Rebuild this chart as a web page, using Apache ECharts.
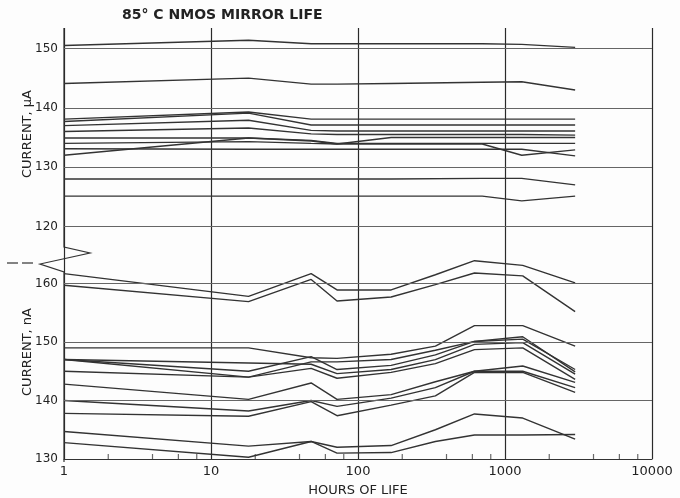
<!DOCTYPE html>
<html>
<head>
<meta charset="utf-8">
<script src="https://cdn.jsdelivr.net/npm/echarts@6/dist/echarts.min.js"></script>
<style>
html,body{margin:0;padding:0;background:#fdfdfd;}
#chart{width:680px;height:498px;}
</style>
</head>
<body>
<div id="chart"></div>
<script>
// hours of life at which readings were plotted
var HOURS_UA = [1, 18, 48, 72, 168, 700, 1300, 3000];
var HOURS_NA = [1, 18, 48, 72, 168, 336, 620, 1320, 3000];

// upper panel, current in uA
var UA_150 = [150.5, 151.4, 150.8, 150.8, 150.8, 150.8, 150.7, 150.2];
var UA_144 = [144.1, 145.0, 144.0, 144.0, 144.1, 144.3, 144.4, 143.0];
var UA_138 = [138.1, 139.3, 138.1, 138.1, 138.1, 138.1, 138.1, 138.1];
var UA_137 = [137.7, 139.1, 137.1, 137.1, 137.1, 137.1, 137.1, 137.1];
var UA_136 = [137.0, 137.9, 136.2, 136.1, 136.1, 136.1, 136.1, 136.1];
var UA_135 = [136.0, 136.6, 135.6, 135.5, 135.5, 135.5, 135.5, 135.4];
var UA_134 = [134.9, 134.9, 134.5, 134.0, 134.0, 134.0, 134.0, 134.0];
var UA_134b = [134.0, 134.3, 134.0, 133.9, 133.9, 133.9, 132.0, 132.9];
var UA_133 = [133.1, 133.0, 133.0, 133.0, 133.0, 133.0, 133.0, 131.9];
var UA_132 = [132.0, 134.9, 134.4, 133.9, 135.0, 135.0, 135.0, 135.0];
var UA_128 = [128.0, 128.0, 128.0, 128.0, 128.0, 128.1, 128.1, 127.0];
var UA_125 = [125.1, 125.1, 125.1, 125.1, 125.1, 125.1, 124.3, 125.1];

// lower panel, current in nA
var NA_162 = [161.7, 157.8, 161.7, 158.9, 158.9, 161.5, 163.9, 163.1, 160.1];
var NA_160 = [159.7, 156.9, 160.7, 157.0, 157.7, 159.8, 161.8, 161.3, 155.2];
var NA_149 = [149.0, 149.0, 147.3, 147.2, 147.9, 149.3, 152.8, 152.8, 149.3];
var NA_147a = [147.0, 144.0, 146.6, 146.6, 147.0, 148.6, 150.1, 150.9, 144.9];
var NA_147b = [147.0, 145.0, 147.5, 145.3, 146.0, 147.8, 150.1, 150.5, 145.3];
var NA_147c = [147.0, 146.4, 146.2, 144.6, 145.3, 147.0, 149.6, 149.9, 144.5];
var NA_145 = [145.0, 144.0, 145.5, 143.8, 144.8, 146.3, 148.7, 149.0, 143.6];
var NA_143 = [142.8, 140.2, 143.0, 140.2, 141.0, 143.2, 145.0, 145.9, 143.1];
var NA_140 = [140.0, 138.2, 140.0, 139.0, 140.4, 142.2, 145.0, 145.0, 142.2];
var NA_138 = [137.8, 137.3, 139.8, 137.4, 139.2, 140.8, 144.8, 144.8, 141.4];
var NA_135 = [134.7, 132.2, 133.0, 132.0, 132.3, 135.0, 137.7, 137.0, 133.4];
var NA_133 = [132.8, 130.3, 133.0, 131.0, 131.1, 133.0, 134.1, 134.1, 134.2];

// ticks
var UA_TICKS = [120, 130, 140, 150];
var NA_TICKS = [130, 140, 150, 160];
var MINOR_HOURS = [2, 4, 6, 8, 20, 40, 60, 80, 200, 400, 600, 800, 2000, 4000, 6000, 8000];

var uaList = [UA_150, UA_144, UA_138, UA_137, UA_136, UA_135, UA_134, UA_134b, UA_133, UA_132, UA_128, UA_125];
var naList = [NA_162, NA_160, NA_149, NA_147a, NA_147b, NA_147c, NA_145, NA_143, NA_140, NA_138, NA_135, NA_133];

var INK = '#333';
var FONT = 'DejaVu Sans';

function pairs(hours, vals) {
    return hours.map(function (h, i) { return [h, vals[i]]; });
}

function gridMarks(ticks) {
    return {
        silent: true, symbol: 'none', animation: false,
        label: {show: false},
        lineStyle: {color: '#666', width: 1, type: 'solid'},
        data: ticks.map(function (t) { return {yAxis: t}; })
    };
}

var series = [];
uaList.forEach(function (vals, i) {
    var s = {
        type: 'line', xAxisIndex: 0, yAxisIndex: 0,
        data: pairs(HOURS_UA, vals), showSymbol: false,
        lineStyle: {color: INK, width: 1.4}
    };
    if (i === 0) s.markLine = gridMarks(UA_TICKS);
    series.push(s);
});
naList.forEach(function (vals, i) {
    var s = {
        type: 'line', xAxisIndex: 1, yAxisIndex: 1,
        data: pairs(HOURS_NA, vals), showSymbol: false,
        lineStyle: {color: INK, width: 1.4}
    };
    if (i === 0) s.markLine = gridMarks(NA_TICKS.slice(1));
    series.push(s);
});
series.push({
    type: 'scatter', xAxisIndex: 1, yAxisIndex: 1, clip: false,
    symbol: 'rect', symbolSize: [1.2, 5], symbolOffset: [0, -2.5],
    itemStyle: {color: '#444'},
    data: MINOR_HOURS.map(function (h) { return [h, 130]; })
});

// layout: the two panels meet at SPLIT, the axis break sits between 247 and 272
var GL = 64, GR = 28, TOP0 = 28, SPLIT = 250, BOT = 36, BOT_Y = 462;

var xBase = {
    type: 'log', logBase: 10, min: 1, max: 10000,
    axisTick: {show: false},
    splitLine: {show: true, lineStyle: {color: '#2a2a2a', width: 1.2}}
};

var myChart = echarts.init(document.getElementById('chart'));
myChart.setOption({
    backgroundColor: '#fdfdfd',
    animation: false,
    grid: [
        {left: GL, right: GR, top: TOP0, height: SPLIT - TOP0},
        {left: GL, right: GR, top: SPLIT, bottom: BOT}
    ],
    xAxis: [
        Object.assign({}, xBase, {gridIndex: 0, axisLine: {show: false}, axisLabel: {show: false}}),
        Object.assign({}, xBase, {
            gridIndex: 1,
            axisLine: {show: true, lineStyle: {color: INK, width: 1.2}},
            axisLabel: {
                color: '#222', fontFamily: FONT, fontSize: 13, margin: 6,
                formatter: function (v) { return String(Math.round(v)); }
            },
            name: 'HOURS OF LIFE', nameLocation: 'middle', nameGap: 25,
            nameTextStyle: {color: '#222', fontFamily: FONT, fontSize: 13}
        })
    ],
    yAxis: [
        {
            gridIndex: 0, type: 'value', min: 116.02, max: 153.46,
            axisLine: {show: false}, axisTick: {show: false}, splitLine: {show: false},
            axisLabel: {customValues: UA_TICKS, color: '#222', fontFamily: FONT, fontSize: 12, margin: 6}
        },
        {
            gridIndex: 1, type: 'value', min: 130, max: 165.73,
            axisLine: {show: false}, axisTick: {show: false}, splitLine: {show: false},
            axisLabel: {customValues: NA_TICKS, color: '#222', fontFamily: FONT, fontSize: 12, margin: 6}
        }
    ],
    graphic: [
        {
            type: 'polyline', silent: true,
            shape: {points: [[GL, TOP0], [GL, 247], [90, 253], [40, 264], [GL, 272], [GL, BOT_Y]]},
            style: {stroke: INK, lineWidth: 1.2, fill: null}
        },
        {type: 'line', shape: {x1: 7, y1: 263, x2: 18, y2: 263}, style: {stroke: INK, lineWidth: 1.2}},
        {type: 'line', shape: {x1: 22, y1: 263, x2: 33, y2: 263}, style: {stroke: INK, lineWidth: 1.2}},
        {
            type: 'text', left: 122, top: 8,
            style: {text: '85° C NMOS MIRROR LIFE', fill: '#222', font: 'bold 14px "DejaVu Sans"'}
        },
        {
            type: 'text', x: 28, y: 134, rotation: Math.PI / 2,
            style: {text: 'CURRENT, μA', fill: '#222', font: '13px "DejaVu Sans"', align: 'center', verticalAlign: 'middle'}
        },
        {
            type: 'text', x: 28, y: 352, rotation: Math.PI / 2,
            style: {text: 'CURRENT, nA', fill: '#222', font: '13px "DejaVu Sans"', align: 'center', verticalAlign: 'middle'}
        }
    ],
    series: series
});
</script>
</body>
</html>
